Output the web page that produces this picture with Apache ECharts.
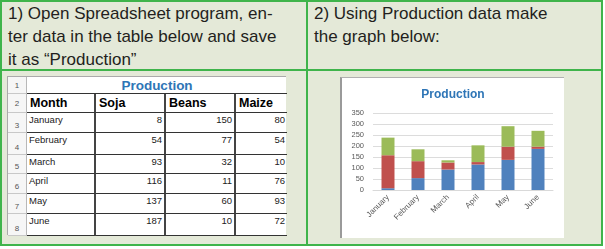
<!DOCTYPE html>
<html>
<head>
<meta charset="UTF-8">
<title>Production</title>
<script src="https://cdn.jsdelivr.net/npm/echarts@6/dist/echarts.min.js"></script>
<style>
    * { margin: 0; padding: 0; }
    body {
        width: 605px; height: 249px; background: #fff;
        position: relative; overflow: hidden;
        font-family: "Liberation Sans", Arial, sans-serif;
    }
    .box {
        position: absolute; left: 0; top: 0; width: 603px; height: 246px;
        border: 2px solid #3fb44b; box-sizing: border-box; background: #e4e9d8;
    }
    .hline { position: absolute; left: 0; top: 69px; width: 603px; height: 2px; background: #3fb44b; }
    .vline { position: absolute; left: 306px; top: 0; width: 2px; height: 246px; background: #3fb44b; }
    .task {
        position: absolute; top: 2px; font-size: 17px; line-height: 23px;
        color: #231f20; white-space: nowrap;
    }
    #sheet {
        position: absolute; left: 7px; top: 76px; width: 279px; height: 159px;
        background: #fff; border-top: 1px solid #aaa; border-left: 1px solid #aaa;
        box-sizing: border-box;
    }
    .cell { position: absolute; box-sizing: border-box; overflow: hidden; white-space: nowrap; }
    .rownum {
        background: #f6f6f6; color: #555; font-size: 8px; text-align: center;
        border-right: 1px solid #b8b8b8; border-bottom: 1px solid #c8c8c8;
        display: flex; align-items: flex-end; justify-content: center; padding-bottom: 2px;
    }
    .dat {
        font-size: 9.5px; line-height: 11px; color: #222; padding: 1px 2px 0 2px;
        border-right: 2px solid #444; border-bottom: 1px solid #333;
    }
    .hdr {
        font-size: 12.5px; font-weight: bold; color: #000; padding-left: 3px;
        border-right: 2px solid #444; border-bottom: 1px solid #333;
        display: flex; align-items: center;
    }
    #chart {
        position: absolute; left: 340px; top: 77px; width: 224px; height: 161px;
        background: #fff; border-left: 2px solid #9a9a9a; border-top: 1px solid #b0b0b0;
        box-sizing: border-box;
    }
</style>
</head>
<body>
    <div class="box"></div>
    <div class="hline"></div>
    <div class="vline"></div>
    <div class="task" style="left:8px;">1) Open Spreadsheet program, en-<br>ter data in the table below and save<br>it as “Production”</div>
    <div class="task" style="left:314px;">2) Using Production data make<br>the graph below:</div>
    <div id="sheet"></div>
    <div id="chart"></div>

<script>
    // data
    var months = ['January', 'February', 'March', 'April', 'May', 'June'];
    var soja = [8, 54, 93, 116, 137, 187];
    var beans = [150, 77, 32, 11, 60, 10];
    var maize = [80, 54, 10, 76, 93, 72];
    var headers = ['Month', 'Soja', 'Beans', 'Maize'];
    var sheetTitle = 'Production';

    // spreadsheet grid (pixel layout of the pasted image)
    var colX = [0, 19, 88, 158, 228, 279];
    var rowY = [0, 17, 36, 56, 78, 97, 117, 137, 159];

    var sheet = document.getElementById('sheet');
    function addCell(cls, x0, y0, x1, y1, html, style) {
        var d = document.createElement('div');
        d.className = 'cell ' + cls;
        d.style.left = x0 + 'px';
        d.style.top = y0 + 'px';
        d.style.width = (x1 - x0) + 'px';
        d.style.height = (y1 - y0) + 'px';
        if (style) d.style.cssText += style;
        d.innerHTML = html;
        sheet.appendChild(d);
        return d;
    }

    for (var r = 0; r < 8; r++) {
        addCell('rownum', colX[0], rowY[r], colX[1], rowY[r + 1], String(r + 1),
            r < 2 ? 'align-items:center;padding-bottom:0;' : '');
    }
    // row 1: merged title
    addCell('hdr', colX[1], rowY[0], colX[5], rowY[1], sheetTitle,
        'justify-content:center;color:#2e75b6;font-size:13.5px;border-right:none;padding-left:0;');
    // row 2: headers
    headers.forEach(function (h, i) {
        addCell('hdr', colX[i + 1], rowY[1], colX[i + 2], rowY[2], h, i == 3 ? 'border-right:none;' : '');
    });
    // rows 3-8: data
    months.forEach(function (m, i) {
        var y0 = rowY[i + 2], y1 = rowY[i + 3];
        var vals = [soja[i], beans[i], maize[i]];
        addCell('dat', colX[1], y0, colX[2], y1, m);
        vals.forEach(function (v, j) {
            addCell('dat', colX[j + 2], y0, colX[j + 3], y1, v,
                'text-align:right;' + (j == 2 ? 'border-right:none;' : ''));
        });
    });

    // chart
    var myChart = echarts.init(document.getElementById('chart'));
    var barStyle = function (name, data, color) {
        return {
            name: name, type: 'bar', stack: 'total', barWidth: 13,
            itemStyle: { color: color }, data: data
        };
    };
    myChart.setOption({
        animation: false,
        title: {
            text: 'Production', left: 'center', top: 6,
            textStyle: { color: '#2e75b6', fontSize: 12, fontWeight: 'bold', fontFamily: 'Liberation Sans' }
        },
        grid: { left: 31, right: 11, top: 35, bottom: 48 },
        xAxis: {
            type: 'category', data: months,
            axisLine: { lineStyle: { color: '#d9d9d9' } },
            axisTick: { show: false },
            axisLabel: { rotate: 45, fontSize: 8, color: '#595959', margin: 6, interval: 0 }
        },
        yAxis: {
            type: 'value', min: 0, max: 350, interval: 50,
            axisLine: { show: false }, axisTick: { show: false },
            splitLine: { lineStyle: { color: '#dcdcdc' } },
            axisLabel: { fontSize: 7.5, color: '#595959', margin: 9 }
        },
        series: [
            barStyle('Soja', soja, '#4f81bd'),
            barStyle('Beans', beans, '#c0504d'),
            barStyle('Maize', maize, '#9bbb59')
        ]
    });
</script>
</body>
</html>
